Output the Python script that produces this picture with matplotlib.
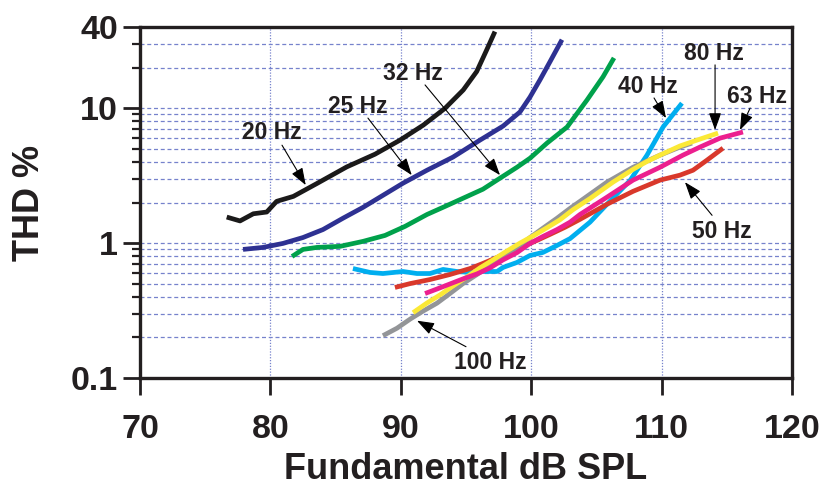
import matplotlib
matplotlib.use("Agg")
import matplotlib.pyplot as plt
from matplotlib.ticker import FixedLocator, NullFormatter, FixedFormatter

plt.rcParams['font.family'] = ['Liberation Sans', 'DejaVu Sans']

# ---- data ----
hz20_x = [76.65, 77.67, 78.69, 79.72, 80.48, 81.76, 83.55, 85.85, 88.02, 89.94, 91.73, 93.39, 94.79, 95.82, 96.59, 97.22]
hz20_y = [1.56, 1.46, 1.65, 1.70, 2.04, 2.22, 2.76, 3.67, 4.56, 5.80, 7.50, 9.98, 13.65, 18.7, 27.1, 37.0]

hz25_x = [77.90, 79.43, 80.97, 82.50, 84.03, 85.57, 87.10, 88.63, 90.17, 92.01, 94.00, 96.07, 97.84, 99.14, 99.91, 100.67, 101.44, 102.36]
hz25_y = [0.898, 0.929, 0.995, 1.10, 1.26, 1.53, 1.84, 2.26, 2.78, 3.47, 4.34, 5.80, 7.37, 9.38, 12.1, 16.2, 22.1, 32.2]

hz32_x = [81.66, 82.50, 83.57, 85.34, 87.10, 88.79, 90.32, 92.01, 93.39, 94.77, 96.30, 97.61, 98.91, 99.91, 101.21, 102.75, 104.28, 105.51, 106.35]
hz32_y = [0.796, 0.898, 0.929, 0.946, 1.03, 1.14, 1.33, 1.63, 1.87, 2.15, 2.51, 3.03, 3.65, 4.26, 5.51, 7.25, 11.5, 17.1, 23.6]

hz40_x = [86.33, 87.64, 88.63, 90.17, 91.24, 92.24, 93.24, 94.31, 95.31, 96.30, 97.38, 97.84, 98.91, 99.91, 100.90, 101.98, 102.98, 104.51, 105.81, 107.58, 108.88, 110.11, 111.56]
hz40_y = [0.648, 0.606, 0.595, 0.616, 0.595, 0.595, 0.638, 0.616, 0.606, 0.616, 0.616, 0.660, 0.719, 0.810, 0.853, 0.961, 1.08, 1.43, 1.94, 2.91, 4.49, 7.25, 10.9]

hz50_x = [89.55, 90.71, 92.24, 93.77, 95.31, 96.30, 97.38, 98.37, 99.37, 100.44, 101.44, 102.59, 103.74, 105.81, 107.81, 109.88, 111.41, 112.41, 113.48, 114.71]
hz50_y = [0.469, 0.501, 0.537, 0.585, 0.648, 0.707, 0.783, 0.868, 0.945, 1.047, 1.16, 1.31, 1.50, 1.94, 2.42, 2.93, 3.19, 3.47, 4.12, 5.06]

hz63_x = [91.86, 92.78, 93.77, 94.77, 95.84, 96.84, 97.84, 98.91, 99.91, 100.90, 101.98, 102.98, 103.74, 105.81, 107.81, 109.88, 111.64, 112.94, 114.48, 116.24]
hz63_y = [0.423, 0.457, 0.498, 0.543, 0.591, 0.655, 0.751, 0.850, 0.995, 1.12, 1.26, 1.43, 1.63, 2.19, 2.93, 3.65, 4.49, 5.15, 6.00, 6.66]

hz80_x = [90.94, 92.01, 93.01, 94.00, 95.08, 96.07, 97.07, 98.14, 99.14, 100.14, 101.21, 102.21, 103.21, 104.51, 106.27, 107.81, 108.88, 109.88, 111.41, 112.94, 114.33]
hz80_y = [0.305, 0.360, 0.413, 0.481, 0.562, 0.655, 0.751, 0.874, 1.00, 1.13, 1.30, 1.49, 1.77, 2.14, 2.83, 3.52, 4.03, 4.49, 5.25, 5.90, 6.54]

hz100_x = [88.63, 89.71, 90.71, 91.70, 92.78, 93.77, 94.77, 95.84, 96.84, 97.84, 98.91, 99.91, 100.90, 101.98, 102.98, 103.74, 105.81, 107.81, 109.88, 111.41, 112.33]
hz100_y = [0.206, 0.234, 0.273, 0.313, 0.359, 0.423, 0.501, 0.585, 0.683, 0.796, 0.929, 1.10, 1.29, 1.53, 1.81, 2.04, 2.83, 3.65, 4.49, 5.15, 5.51]

x_ticks = [70, 80, 90, 100, 110, 120]
y_major = [0.1, 1, 10, 40]
y_major_labels = ['0.1', '1', '10', '40']
y_minor = [0.2, 0.3, 0.4, 0.5, 0.6, 0.7, 0.8, 0.9, 2, 3, 4, 5, 6, 7, 8, 9, 20, 30]

# label text, baseline position; arrow tail and head
labels = ['20 Hz', '25 Hz', '32 Hz', '40 Hz', '80 Hz', '63 Hz', '50 Hz', '100 Hz']
label_pos = [(80.12, 5.90), (86.72, 9.21), (90.94, 16.2), (108.96, 12.97),
             (114.02, 22.8), (117.32, 10.93), (114.63, 1.084), (96.84, 0.117)]
arrow_tail = [(80.89, 5.32), (87.48, 8.45), (91.86, 14.88), (109.42, 11.91),
              (114.1, 20.95), (116.79, 10.03), (113.87, 1.607), (95.0, 0.1706)]
arrow_head = [(82.71, 2.69), (90.84, 3.19), (97.61, 3.19), (110.34, 8.45),
              (114.1, 6.89), (116.01, 6.89), (111.79, 2.83), (91.24, 0.266)]

# ---- figure ----
fig = plt.figure(figsize=(8.24, 4.92), dpi=100)
ax = fig.add_axes([140/824, 1-378/492, (792-140)/824, (378-27)/492])
ax.set_yscale('log')
ax.set_xlim(70, 120)
ax.set_ylim(0.1, 40)

grid_c = '#7682cc'
for v in y_minor + [1, 10]:
    ax.axhline(v, color=grid_c, lw=0.9, dashes=(3.2, 2.2), zorder=1)
for v in x_ticks[1:-1]:
    ax.axvline(v, color=grid_c, lw=0.9, dashes=(1, 1.3), zorder=1)

lw = 3.4
series = [
    (hz20_x, hz20_y, '#1b1a1a'),
    (hz25_x, hz25_y, '#2e3192'),
    (hz32_x, hz32_y, '#00a14b'),
    (hz40_x, hz40_y, '#00aeef'),
    (hz50_x, hz50_y, '#d9382b'),
    (hz100_x, hz100_y, '#939598'),
    (hz80_x, hz80_y, '#fbe936'),
    (hz63_x, hz63_y, '#ec1f8e'),
]
for xs, ys, c in series:
    ax.plot(xs, ys, color=c, lw=lw, solid_capstyle='butt', solid_joinstyle='round', zorder=3)

txt_c = '#231f20'
for lab, (tx, ty), tail, head in zip(labels, label_pos, arrow_tail, arrow_head):
    ax.text(tx, ty, lab, ha='center', va='baseline', fontsize=16.5, fontweight='bold', color=txt_c, zorder=5)
    ax.annotate('', xy=head, xytext=tail,
                arrowprops=dict(arrowstyle='-|>,head_length=0.75,head_width=0.27', color='black',
                                lw=0.8, shrinkA=0, shrinkB=0, mutation_scale=14), zorder=5)

ax.xaxis.set_major_locator(FixedLocator(x_ticks))
ax.set_xticklabels([str(v) for v in x_ticks])
ax.yaxis.set_major_locator(FixedLocator(y_major))
ax.yaxis.set_major_formatter(FixedFormatter(y_major_labels))
ax.yaxis.set_minor_locator(FixedLocator(y_minor))
ax.yaxis.set_minor_formatter(NullFormatter())

for s in ax.spines.values():
    s.set_linewidth(2.4)
    s.set_color(txt_c)
ax.tick_params(axis='x', which='major', direction='out', length=12, width=2.0, pad=14,
               labelsize=24.5, colors=txt_c)
ax.tick_params(axis='y', which='major', direction='out', length=12, width=2.0, pad=4,
               labelsize=24.5, colors=txt_c)
ax.tick_params(axis='y', which='minor', direction='out', length=6, width=1.6, colors=txt_c)
for lab in ax.get_xticklabels() + ax.get_yticklabels():
    lab.set_fontweight('bold')

ax.set_xlabel('Fundamental dB SPL', fontsize=26, fontweight='bold', color=txt_c, labelpad=5)
ax.set_ylabel('THD %', fontsize=26, fontweight='bold', color=txt_c, labelpad=17)

fig.savefig('out.png', dpi=100)
